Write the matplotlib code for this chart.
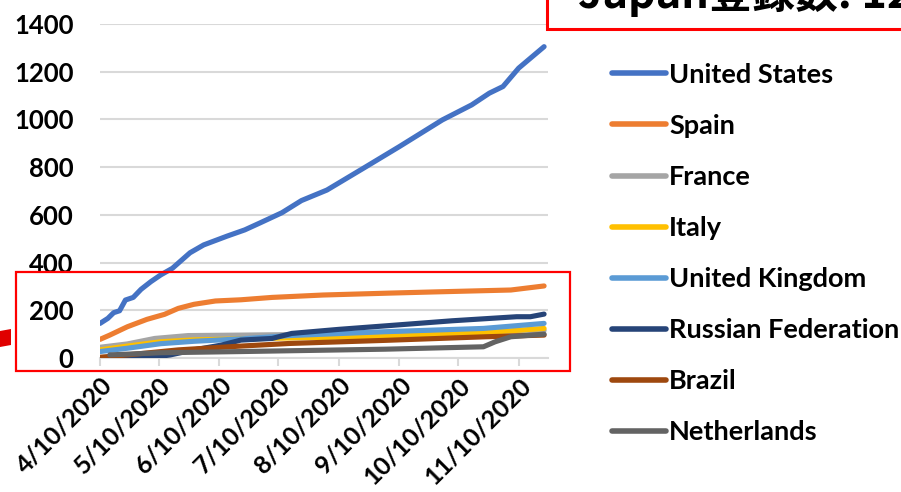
import matplotlib
matplotlib.use("Agg")
import matplotlib.pyplot as plt
from matplotlib.patches import Rectangle, Polygon

plt.rcParams['font.family'] = ['Lato', 'Noto Sans CJK JP', 'DejaVu Sans']

# ---- data (x = days since 4/10/2020) ----
tick_days = [0, 30, 61, 91, 122, 153, 183, 214]
tick_labels = ["4/10/2020", "5/10/2020", "6/10/2020", "7/10/2020",
               "8/10/2020", "9/10/2020", "10/10/2020", "11/10/2020"]

us_days = [0, 4, 7, 10, 13, 17, 21, 26, 31, 37, 46, 53, 65, 74, 82, 93, 103, 116, 136, 153, 175, 190, 199, 206, 214, 227]
us_vals = [145, 166, 190, 198, 243, 254, 288, 320, 348, 376, 441, 474, 511, 537, 567, 609, 660, 704, 802, 886, 998, 1061, 1110, 1138, 1215, 1305]

spain_days = [0, 5, 14, 24, 33, 40, 48, 59, 72, 88, 114, 148, 171, 210, 227]
spain_vals = [78, 96, 131, 162, 183, 208, 225, 239, 244, 254, 264, 272, 277, 285, 302]

france_days = [0, 14, 28, 45, 72, 150, 200, 215, 227]
france_vals = [45, 59, 82, 94, 96, 102, 106, 110, 116]

italy_days = [0, 14, 31, 48, 72, 97, 145, 196, 227]
italy_vals = [34, 50, 68, 76, 80, 84, 90, 106, 124]

uk_days = [0, 14, 31, 48, 72, 97, 145, 196, 227]
uk_vals = [27, 41, 60, 70, 80, 94, 110, 124, 145]

russia_days = [0, 20, 29, 36, 48, 62, 72, 88, 98, 122, 148, 180, 213, 220, 227]
russia_vals = [2, 3, 5, 13, 34, 54, 75, 82, 103, 120, 136, 156, 173, 173, 184]

brazil_days = [0, 14, 40, 72, 97, 146, 197, 227]
brazil_vals = [3, 13, 34, 50, 61, 74, 89, 96]

neth_days = [5, 31, 72, 146, 196, 202, 210, 227]
neth_vals = [13, 22, 27, 37, 47, 68, 89, 100]

series = [
    ("United States", us_days, us_vals, "#4472C4"),
    ("Spain", spain_days, spain_vals, "#ED7D31"),
    ("France", france_days, france_vals, "#A5A5A5"),
    ("Italy", italy_days, italy_vals, "#FFC000"),
    ("United Kingdom", uk_days, uk_vals, "#5B9BD5"),
    ("Russian Federation", russia_days, russia_vals, "#264478"),
    ("Brazil", brazil_days, brazil_vals, "#9E480E"),
    ("Netherlands", neth_days, neth_vals, "#636363"),
]

W, H = 901, 492
fig = plt.figure(figsize=(W / 100, H / 100), dpi=100)
ax = fig.add_axes([100 / W, 1 - 358 / H, 448 / W, (358 - 24) / H])

for name, d, v, c in series:
    ax.plot(d, v, color=c, lw=3.7, solid_capstyle='round', solid_joinstyle='round', label=name, zorder=3)

ax.set_xlim(0, 229)
ax.set_ylim(0, 1400)
ax.set_yticks(range(0, 1401, 200))
ax.yaxis.grid(True, color="#D9D9D9", lw=1.5)
ax.set_axisbelow(True)
for s in ["top", "right", "left"]:
    ax.spines[s].set_visible(False)
ax.spines["bottom"].set_color("#D9D9D9")
ax.spines["bottom"].set_linewidth(1.5)
ax.tick_params(axis='y', length=0, pad=19, labelsize=18.5)
ax.tick_params(axis='x', length=6, width=1.5, color="#D9D9D9", pad=5, labelsize=18)
ax.set_xticks(tick_days)
ax.set_xticklabels(tick_labels, rotation=45, ha='right', va='top', rotation_mode='anchor')
for lab in ax.get_xticklabels() + ax.get_yticklabels():
    lab.set_fontweight('bold')

leg = fig.legend(loc='upper left', bbox_to_anchor=(601 / W, 1 - 52 / H), frameon=False,
                 prop={'size': 19.5, 'weight': 'bold'}, handlelength=2.0, handletextpad=0.12,
                 labelspacing=1.0, borderaxespad=0)
for l in leg.get_lines():
    l.set_linewidth(4)

# red highlight rectangle
fig.patches.append(Rectangle((16 / W, 1 - 371 / H), (570 - 16) / W, (371 - 272) / H,
                             transform=fig.transFigure, fill=False, edgecolor='#FF0000', lw=1.6, zorder=5))
# red mark at left edge
fig.patches.append(Polygon([(0, 1 - 331 / H), (11 / W, 1 - 329 / H), (11 / W, 1 - 345 / H), (0, 1 - 347 / H)],
                           closed=True, transform=fig.transFigure, facecolor='#E00000', edgecolor='none', zorder=5))
# title box (cut off at top)
fig.patches.append(Rectangle((547 / W, 1 - 29 / H), 400 / W, 60 / H,
                             transform=fig.transFigure, facecolor='white', edgecolor='#FF0000', lw=2.2, zorder=6))
fig.text(578 / W, 1 - 8 / H, "Japan登録数: 12", fontsize=31, fontweight='bold', ha='left', va='baseline',
         family=['Noto Sans CJK JP', 'DejaVu Sans'], zorder=7)

fig.savefig("out.png", dpi=100)
